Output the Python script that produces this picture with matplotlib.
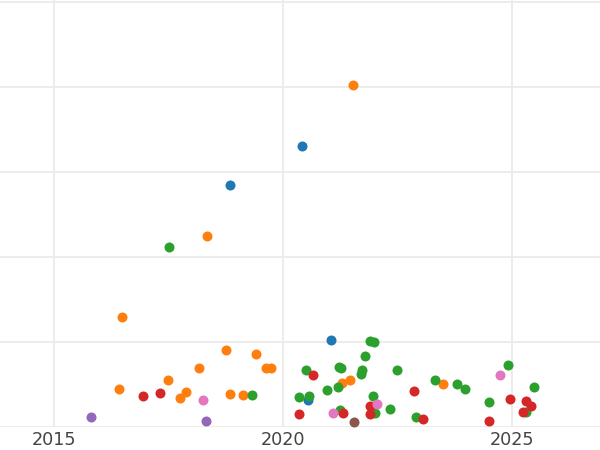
import matplotlib
matplotlib.use("Agg")
import matplotlib.pyplot as plt

# points per group, (year, value)
blue_x = [2020.41, 2018.84, 2021.05, 2020.55]
blue_y = [3.306, 2.847, 1.024, 0.318]

orange_x = [2021.53, 2018.34, 2016.48, 2016.42, 2017.49, 2017.88, 2017.75, 2018.17,
            2018.76, 2018.84, 2019.13, 2019.41, 2019.63, 2019.74, 2021.29, 2021.46,
            2023.49]
orange_y = [4.024, 2.247, 1.294, 0.447, 0.553, 0.412, 0.341, 0.694,
            0.906, 0.388, 0.376, 0.859, 0.694, 0.694, 0.518, 0.553,
            0.506]

green_x = [2017.51, 2019.32, 2020.35, 2020.50, 2020.57, 2020.96, 2021.22, 2021.27,
           2021.20, 2021.24, 2021.90, 2021.99, 2021.79, 2021.72, 2021.70, 2022.49,
           2021.97, 2022.01, 2022.34, 2022.90, 2023.32, 2023.80, 2023.97, 2024.50,
           2024.91, 2025.31, 2025.48]
green_y = [2.118, 0.376, 0.353, 0.671, 0.365, 0.435, 0.706, 0.694,
           0.471, 0.200, 1.012, 1.000, 0.835, 0.671, 0.624, 0.671,
           0.365, 0.165, 0.212, 0.118, 0.553, 0.506, 0.447, 0.294,
           0.729, 0.176, 0.471]

red_x = [2016.94, 2017.31, 2020.35, 2020.66, 2021.31, 2021.90, 2021.90, 2022.86,
         2023.06, 2024.50, 2024.96, 2025.31, 2025.41, 2025.24]
red_y = [0.365, 0.400, 0.153, 0.612, 0.165, 0.247, 0.153, 0.424,
         0.094, 0.071, 0.329, 0.306, 0.247, 0.176]

purple_x = [2015.81, 2018.32]
purple_y = [0.118, 0.071]

brown_x = [2021.55]
brown_y = [0.059]

pink_x = [2018.25, 2021.09, 2022.05, 2024.74]
pink_y = [0.318, 0.165, 0.271, 0.612]

groups = [
    (blue_x, blue_y, "#1f77b4"),
    (orange_x, orange_y, "#ff7f0e"),
    (green_x, green_y, "#2ca02c"),
    (red_x, red_y, "#d62728"),
    (purple_x, purple_y, "#9467bd"),
    (brown_x, brown_y, "#8c564b"),
    (pink_x, pink_y, "#e377c2"),
]

fig = plt.figure(figsize=(6, 4.5), dpi=100)
ax = fig.add_axes([0, 0.051, 1, 0.949])

for xs, ys, c in groups:
    ax.scatter(xs, ys, s=52, color=c, linewidths=0, zorder=3)

ax.set_xlim(2013.82, 2026.92)
ax.set_ylim(0, 5.024)
ax.set_xticks([2015, 2020, 2025])
ax.set_yticks([0, 1, 2, 3, 4, 5])
ax.set_yticklabels([])
ax.tick_params(axis="both", length=0)
ax.tick_params(axis="x", labelsize=12.7, labelcolor="#444444", pad=2.5)
ax.grid(True, color="#ebebeb", linewidth=1.3, zorder=0)
ax.set_axisbelow(True)
for s in ax.spines.values():
    s.set_visible(False)

fig.savefig("out.png", dpi=100)
